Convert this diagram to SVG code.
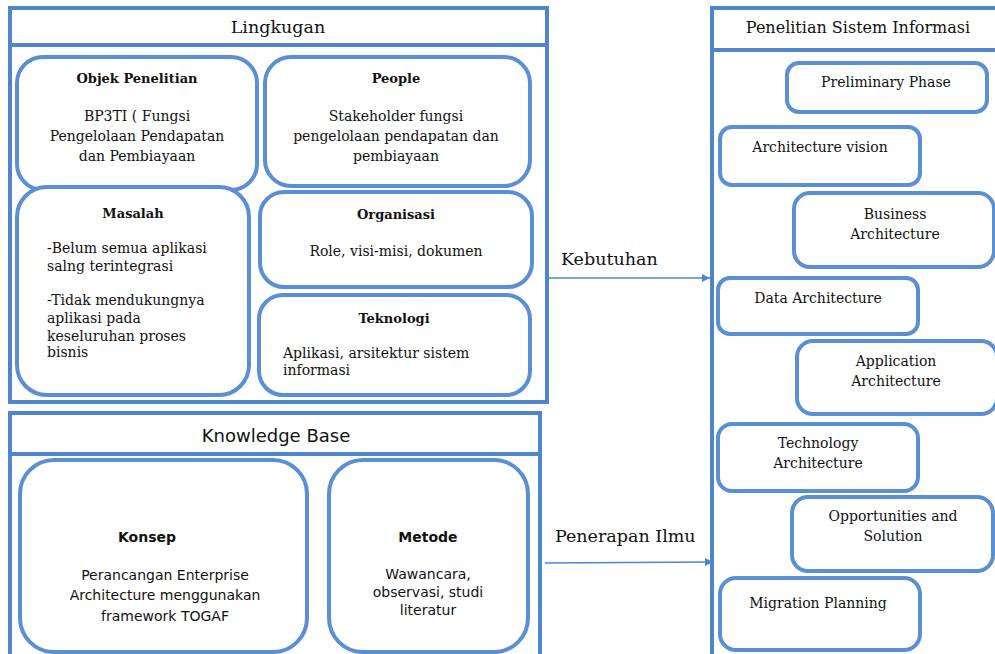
<svg xmlns="http://www.w3.org/2000/svg" width="995" height="654" viewBox="0 0 995 654">
<style>
.frame{fill:#fff;stroke:#4f86cb;stroke-width:4}
.box{fill:#fff;stroke:#5b8fd3;stroke-width:4}
.hdr{fill:none;stroke:#4f86cb;stroke-width:4}
.s{font-family:"DejaVu Serif","Liberation Serif",serif;font-size:14px;fill:#111}
.sb{font-family:"DejaVu Serif","Liberation Serif",serif;font-size:13px;font-weight:bold;fill:#111}
.st{font-family:"DejaVu Serif","Liberation Serif",serif;font-size:16px;fill:#111}
.sl{font-family:"DejaVu Serif","Liberation Serif",serif;font-size:17.5px;fill:#111}
.k{font-family:"DejaVu Sans","Liberation Sans",sans-serif;font-size:14px;fill:#111}
.kb{font-family:"DejaVu Sans","Liberation Sans",sans-serif;font-size:14px;font-weight:bold;fill:#111}
.kt{font-family:"DejaVu Sans","Liberation Sans",sans-serif;font-size:18px;fill:#111}
.c{text-anchor:middle}
.conn{stroke:#4f86cb;stroke-width:1.6;fill:none}
</style>
<defs>
<marker id="ah" viewBox="0 0 10 10" refX="10" refY="5" markerWidth="9" markerHeight="8" orient="auto" markerUnits="userSpaceOnUse">
<path d="M0,0 L10,5 L0,10 z" fill="#4f86cb"/>
</marker>
</defs>
<rect width="995" height="654" fill="#fff"/>

<g id="lingkugan">
<rect class="frame" x="10" y="8" width="537" height="394"/>
<line class="hdr" x1="10" y1="45" x2="547" y2="45"/>
<text class="sl c" x="278" y="33">Lingkugan</text>
</g>

<g id="objek">
<rect class="box" x="17" y="57" width="240" height="133" rx="26"/>
<text class="sb c" x="137" y="83">Objek Penelitian</text>
<text class="s c" x="137" y="121">BP3TI ( Fungsi</text>
<text class="s c" x="137" y="141">Pengelolaan Pendapatan</text>
<text class="s c" x="137" y="161">dan Pembiayaan</text>
</g>

<g id="people">
<rect class="box" x="265" y="57" width="265" height="129" rx="26"/>
<text class="sb c" x="396" y="83">People</text>
<text class="s c" x="396" y="121">Stakeholder fungsi</text>
<text class="s c" x="396" y="141">pengelolaan pendapatan dan</text>
<text class="s c" x="396" y="161">pembiayaan</text>
</g>

<g id="masalah">
<rect class="box" x="17" y="187" width="232" height="208" rx="30"/>
<text class="sb c" x="133" y="218">Masalah</text>
<text class="s" x="47" y="253">-Belum semua aplikasi</text>
<text class="s" x="47" y="271">salng terintegrasi</text>
<text class="s" x="47" y="305">-Tidak mendukungnya</text>
<text class="s" x="47" y="323">aplikasi pada</text>
<text class="s" x="47" y="341">keseluruhan proses</text>
<text class="s" x="47" y="357">bisnis</text>
</g>

<g id="organisasi">
<rect class="box" x="260" y="192" width="272" height="95" rx="24"/>
<text class="sb c" x="396" y="219">Organisasi</text>
<text class="s c" x="396" y="256">Role, visi-misi, dokumen</text>
</g>

<g id="teknologi">
<rect class="box" x="259" y="295" width="271" height="100" rx="24"/>
<text class="sb c" x="394" y="323">Teknologi</text>
<text class="s" x="283" y="358">Aplikasi, arsitektur sistem</text>
<text class="s" x="283" y="375">informasi</text>
</g>

<g id="knowledge">
<rect class="frame" x="10" y="413" width="530" height="250"/>
<line class="hdr" x1="10" y1="454" x2="540" y2="454"/>
<text class="kt c" x="276" y="442">Knowledge Base</text>
</g>

<g id="konsep">
<rect class="box" x="20" y="460" width="287" height="192" rx="34"/>
<text class="kb c" x="147" y="542">Konsep</text>
<text class="k c" x="165" y="580">Perancangan Enterprise</text>
<text class="k c" x="165" y="600">Architecture menggunakan</text>
<text class="k c" x="165" y="621">framework TOGAF</text>
</g>

<g id="metode">
<rect class="box" x="329" y="460" width="199" height="192" rx="34"/>
<text class="kb c" x="428" y="542">Metode</text>
<text class="k c" x="428" y="579">Wawancara,</text>
<text class="k c" x="428" y="597">observasi, studi</text>
<text class="k c" x="428" y="615">literatur</text>
</g>

<g id="penelitian">
<rect class="frame" x="712" y="8" width="290" height="660"/>
<line class="hdr" x1="712" y1="50" x2="995" y2="50"/>
<text class="st c" x="858" y="33">Penelitian Sistem Informasi</text>
</g>

<g id="preliminary">
<rect class="box" x="787" y="63" width="200" height="49" rx="12"/>
<text class="s c" x="886" y="87">Preliminary Phase</text>
</g>

<g id="vision">
<rect class="box" x="720" y="127" width="200" height="58" rx="12"/>
<text class="s c" x="820" y="152">Architecture vision</text>
</g>

<g id="business">
<rect class="box" x="794" y="193" width="200" height="74" rx="16"/>
<text class="s c" x="895" y="219">Business</text>
<text class="s c" x="895" y="239">Architecture</text>
</g>

<g id="data">
<rect class="box" x="718" y="278" width="200" height="56" rx="12"/>
<text class="s c" x="818" y="303">Data Architecture</text>
</g>

<g id="application">
<rect class="box" x="797" y="341" width="200" height="73" rx="16"/>
<text class="s c" x="896" y="366">Application</text>
<text class="s c" x="896" y="386">Architecture</text>
</g>

<g id="technology">
<rect class="box" x="718" y="424" width="200" height="67" rx="14"/>
<text class="s c" x="818" y="448">Technology</text>
<text class="s c" x="818" y="468">Architecture</text>
</g>

<g id="opportunities">
<rect class="box" x="792" y="497" width="201" height="74" rx="16"/>
<text class="s c" x="893" y="521">Opportunities and</text>
<text class="s c" x="893" y="541">Solution</text>
</g>

<g id="migration">
<rect class="box" x="720" y="578" width="200" height="72" rx="16"/>
<text class="s c" x="818" y="608">Migration Planning</text>
</g>

<g id="connectors">
<line class="conn" x1="549" y1="278" x2="710" y2="278" marker-end="url(#ah)"/>
<text class="sl" x="561" y="265">Kebutuhan</text>
<line class="conn" x1="545" y1="563" x2="713" y2="562" marker-end="url(#ah)"/>
<text class="sl" x="555" y="542">Penerapan Ilmu</text>
</g>
</svg>
